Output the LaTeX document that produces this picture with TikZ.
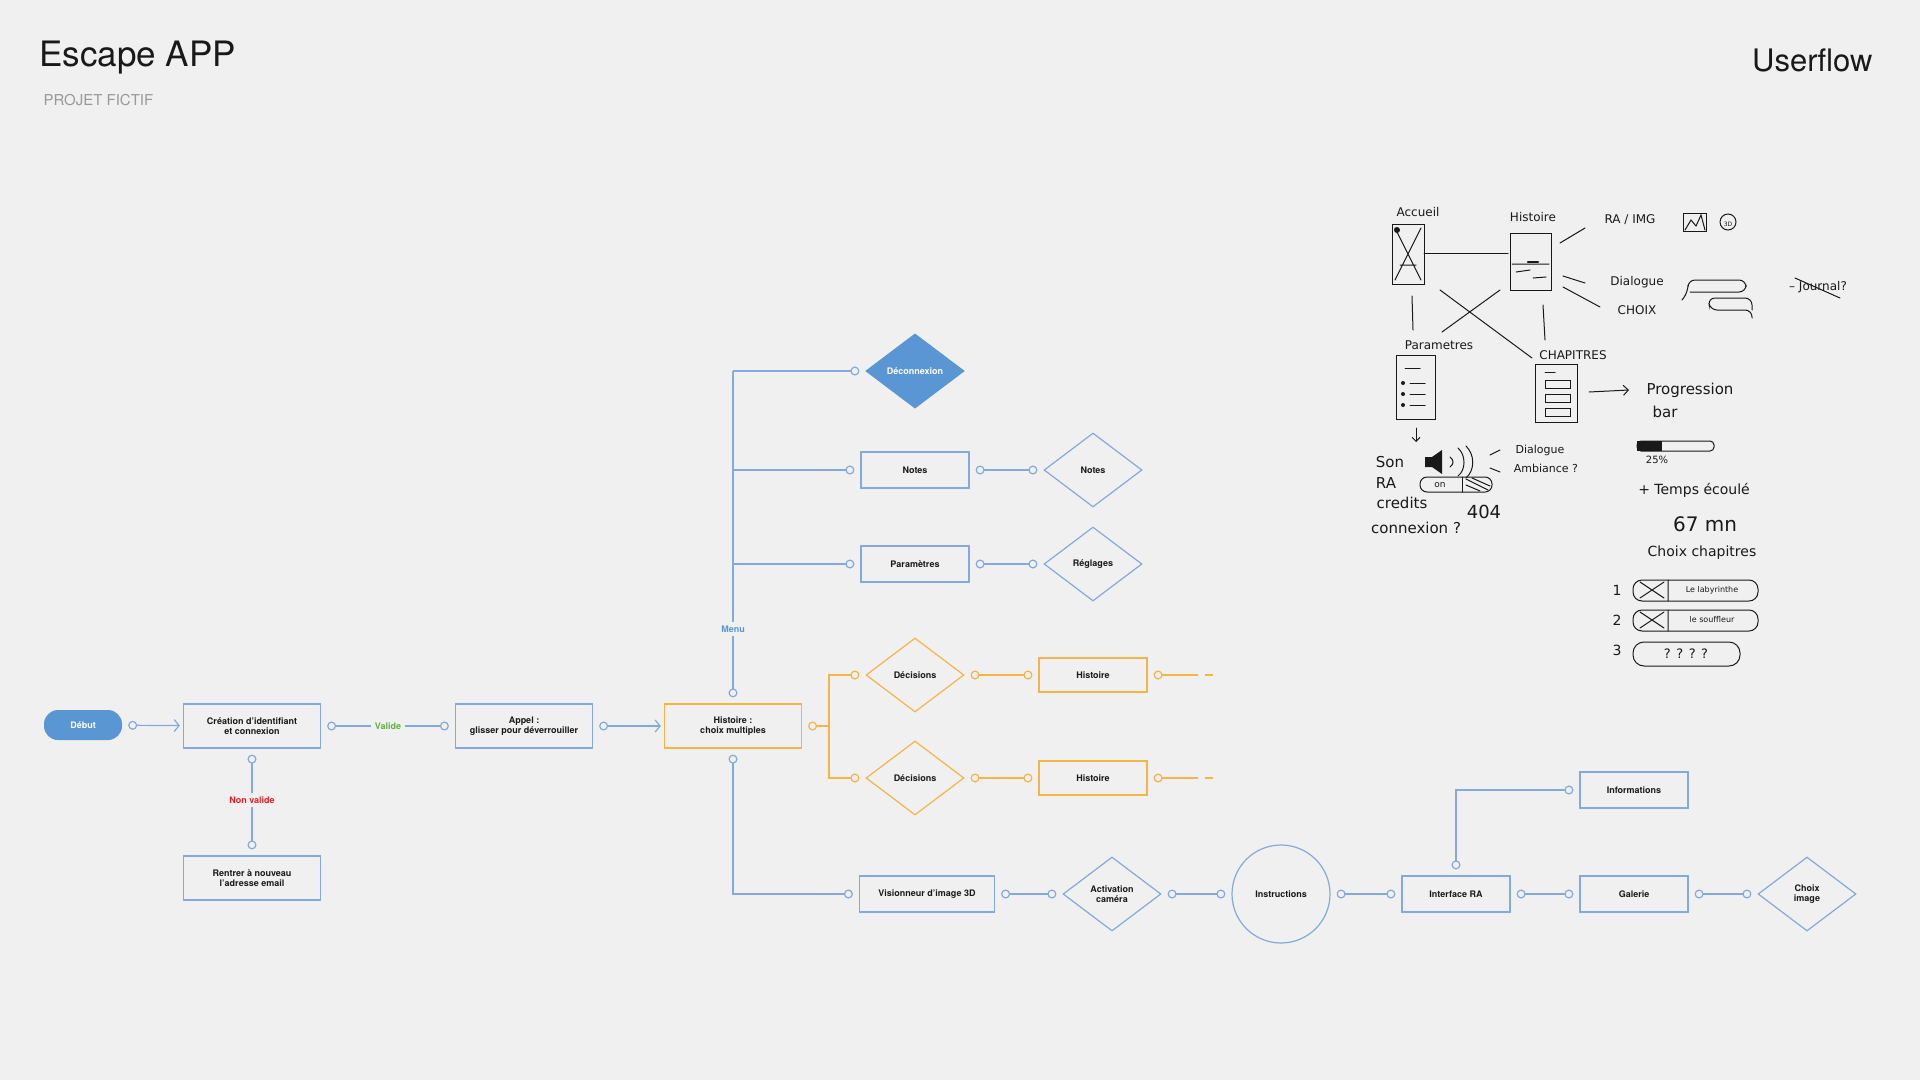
\documentclass[tikz,border=0pt]{standalone}
\usepackage{fontspec}
\setmainfont{TeX Gyre Heros}
\newfontfamily\sketchfont{DejaVu Sans}
\usetikzlibrary{
  arrows.meta,
  shapes.geometric  % diamonds
}
\definecolor{bg}{RGB}{240,240,240}
\definecolor{flow}{RGB}{130,170,220}
\definecolor{flowfill}{RGB}{91,150,212}
\definecolor{story}{RGB}{245,180,70}
\definecolor{ok}{RGB}{90,180,60}
\definecolor{ko}{RGB}{230,30,40}
\definecolor{ink}{RGB}{25,25,25}
\tikzset{
  x=1pt, y=-1pt,
  every node/.style = {font=\fontsize{9}{10}\selectfont\bfseries, text=ink, align=center},
  screen/.style = {rectangle, draw=flow, line width=1.2pt, minimum width=108pt, minimum height=36pt},
  widescreen/.style = {screen, minimum width=137pt, minimum height=44pt},
  choice/.style = {diamond, draw=flow, line width=1.2pt, minimum width=98pt, minimum height=74pt, aspect=1.3, inner sep=0pt},
  storybox/.style = {screen, draw=story},
  storychoice/.style = {choice, draw=story},
  link/.style = {draw=flow, line width=1.2pt, {Circle[open,length=9pt,width=9pt]}-{Circle[open,length=9pt,width=9pt]}, shorten <=6pt, shorten >=6pt},
  flowarrow/.style = {draw=flow, line width=1.2pt, {Circle[open,length=9pt,width=9pt]}-{Straight Barb[length=5pt,width=12pt]}, shorten <=6pt, shorten >=3pt},
  branch/.style = {draw=flow, line width=1.2pt, -{Circle[open,length=9pt,width=9pt]}, shorten >=6pt},
  stub/.style = {draw=flow, line width=1.2pt, {Circle[open,length=9pt,width=9pt]}-, shorten <=6pt},
  storylink/.style = {link, draw=story},
  storybranch/.style = {branch, draw=story},
  storystub/.style = {stub, draw=story},
  sketch/.style = {draw=ink, line width=1pt, line cap=round},
  hand/.style = {font=\sketchfont\fontsize{12}{13}\selectfont, text=ink, inner sep=1pt}
}
\begin{document}
\begin{tikzpicture}
  \fill[bg] (0,0) rectangle (1920,1080);
  \useasboundingbox (0,0) rectangle (1920,1080);

  %% titles
  \node[anchor=west, font=\fontsize{35}{38}\selectfont] (T) at (36,58) {Escape APP};
  \node[anchor=west, font=\fontsize{15}{17}\selectfont, text=black!40] (ST) at (40,100) {PROJET FICTIF};
  \node[anchor=east, font=\fontsize{31}{34}\selectfont] (UF) at (1876,60) {Userflow};

  %% main flow
  \node[rectangle, rounded corners=14pt, fill=flowfill, text=white, minimum width=78pt, minimum height=30pt] (DEB) at (83,725) {Début};
  \node[widescreen] (CRE) at (252,726) {Création d'identifiant\\et connexion};
  \node[text=ok] (VAL) at (388,726) {Valide};
  \node[widescreen] (APP) at (524,726) {Appel :\\glisser pour déverrouiller};
  \node[widescreen, draw=story] (HIS) at (733,726) {Histoire :\\choix multiples};
  \node[text=ko] (NV) at (252,800) {Non valide};
  \node[widescreen] (RE) at (252,878) {Rentrer à nouveau\\l'adresse email};

  %% menu
  \node[text=flowfill] (MENU) at (733,629) {Menu};
  \coordinate (M0) at (733,371);
  \node[choice, fill=flowfill, draw=flowfill, text=white] (DEC) at (915,371) {Déconnexion};
  \node[screen] (NOT) at (915,470) {Notes};
  \node[choice] (NOTD) at (1093,470) {Notes};
  \node[screen] (PAR) at (915,564) {Paramètres};
  \node[choice] (REG) at (1093,564) {Réglages};

  %% story branches
  \coordinate (S0) at (829,726);
  \node[storychoice] (D1) at (915,675) {Décisions};
  \node[storybox, minimum height=34pt] (H1) at (1093,675) {Histoire};
  \node[storychoice] (D2) at (915,778) {Décisions};
  \node[storybox, minimum height=34pt] (H2) at (1093,778) {Histoire};
  \coordinate (E1) at (1218,675);
  \coordinate (E2) at (1218,778);

  %% AR branch
  \node[screen, minimum width=135pt] (VIS) at (927,894) {Visionneur d'image 3D};
  \node[choice] (ACT) at (1112,894) {Activation\\caméra};
  \node[circle, draw=flow, line width=1.2pt, minimum size=98pt] (INS) at (1281,894) {Instructions};
  \node[screen] (IRA) at (1456,894) {Interface RA};
  \node[screen] (GAL) at (1634,894) {Galerie};
  \node[choice] (CHI) at (1807,894) {Choix\\image};
  \node[screen] (INF) at (1634,790) {Informations};

  %% arrows
  \draw[flowarrow] (DEB) -- (CRE);
  \draw[stub] (CRE.east) -- (VAL.west);
  \draw[branch] (VAL.east) -- (APP.west);
  \draw[flowarrow] (APP) -- (HIS);
  \draw[stub] (CRE.south) -- (NV.north);
  \draw[branch] (NV.south) -- (RE.north);

  \draw[draw=flow, line width=1.2pt] (M0) -- (MENU.north);
  \draw[branch] (MENU.south) -- (HIS.north);
  \draw[branch] (M0) -- (DEC.west);
  \draw[branch] (M0 |- NOT.west) -- (NOT.west);
  \draw[branch] (M0 |- PAR.west) -- (PAR.west);
  \draw[link] (NOT) -- (NOTD);
  \draw[link] (PAR) -- (REG);

  \draw[storystub] (HIS.east) -- (S0);
  \draw[storybranch] (S0) |- (D1.west);
  \draw[storybranch] (S0) |- (D2.west);
  \draw[storylink] (D1) -- (H1);
  \draw[storylink] (D2) -- (H2);
  \draw[storystub, dash pattern=on 36pt off 7pt on 8pt off 6pt on 8pt] (H1.east) -- (E1);
  \draw[storystub, dash pattern=on 36pt off 7pt on 8pt off 6pt on 8pt] (H2.east) -- (E2);

  \draw[link] (HIS.south) |- (VIS.west);
  \draw[link] (VIS) -- (ACT);
  \draw[link] (ACT) -- (INS);
  \draw[link] (INS) -- (IRA);
  \draw[link] (IRA) -- (GAL);
  \draw[link] (GAL) -- (CHI);
  \draw[link] (IRA.north) |- (INF.west);

  %% hand sketch
  \node[hand] (SACC) at (1418,212) {Accueil};
  \draw[sketch] (1392,224) rectangle (1424,284);
  \draw[sketch] (1395,228) -- (1421,280) (1421,228) -- (1395,280) (1400,265) -- (1416,265);
  \fill[ink] (1397,230) circle (3pt);
  \node[hand] (SHIS) at (1533,217) {Histoire};
  \draw[sketch] (1510,233) rectangle (1551,290);
  \draw[sketch] (1512,264) -- (1549,264) (1516,272) -- (1530,270) (1533,278) -- (1546,277);
  \draw[sketch, line width=2.5pt] (1528,262) -- (1538,262);
  \draw[sketch] (1424,253) -- (1508,253);
  \draw[sketch] (1412,296) -- (1413,330) (1543,305) -- (1545,340);
  \draw[sketch] (1440,290) -- (1532,358) (1500,290) -- (1442,332);
  \node[hand] (SRA) at (1630,220) {RA / IMG};
  \draw[sketch] (1683,213) rectangle (1706,231);
  \draw[sketch] (1685,230) -- (1691,220) -- (1696,226) -- (1701,215) -- (1705,230);
  \draw[sketch] (1728,222) circle (8pt);
  \node[hand, font=\sketchfont\fontsize{6}{6}\selectfont] (S3D) at (1728,224) {3D};
  \draw[sketch] (1560,243) -- (1585,228);
  \node[hand] (SDIA) at (1637,282) {Dialogue};
  \node[hand] (SCHO) at (1637,310) {CHOIX};
  \draw[sketch] (1563,276) -- (1585,283) (1563,287) -- (1600,307);
  \draw[sketch, rounded corners=7pt] (1682,300) -- (1688,292) -- (1688,280) -- (1746,280) -- (1746,292) -- (1690,292);
  \draw[sketch, rounded corners=7pt] (1752,318) -- (1752,310) -- (1710,310) -- (1708,298) -- (1752,298) -- (1752,310);
  \node[hand] (SJOU) at (1818,287) {– Journal?};
  \draw[sketch] (1795,278) -- (1840,298);
  \node[hand] (SPAR) at (1439,345) {Parametres};
  \draw[sketch] (1396,355) rectangle (1435,419);
  \draw[sketch] (1405,368) -- (1420,368) (1410,383) -- (1425,383) (1410,394) -- (1425,394) (1410,405) -- (1425,405);
  \fill[ink] (1403,383) circle (2pt) (1403,394) circle (2pt) (1403,405) circle (2pt);
  \node[hand] (SCHA) at (1573,355) {CHAPITRES};
  \draw[sketch] (1535,364) rectangle (1577,422);
  \draw[sketch] (1545,372) -- (1555,372) (1545,380) rectangle (1570,388) (1545,394) rectangle (1570,402) (1545,408) rectangle (1570,416);
  \draw[sketch, -{Straight Barb[length=5pt,width=10pt]}] (1589,392) -- (1629,390);
  \node[hand, font=\sketchfont\fontsize{15}{16}\selectfont] (SPRO) at (1690,390) {Progression};
  \node[hand, font=\sketchfont\fontsize{15}{16}\selectfont] (SBAR) at (1665,412) {bar};
  \draw[sketch, rounded corners=4pt] (1637,441) rectangle (1714,451);
  \fill[ink] (1637,441) rectangle (1662,451);
  \node[hand, font=\sketchfont\fontsize{10}{11}\selectfont] (SPCT) at (1657,460) {25\%};
  \node[hand, font=\sketchfont\fontsize{14}{15}\selectfont] (STMP) at (1694,490) {+ Temps écoulé};
  \node[hand, font=\sketchfont\fontsize{20}{22}\selectfont] (SMN) at (1705,524) {67 mn};
  \node[hand, font=\sketchfont\fontsize{14}{15}\selectfont] (SCCH) at (1702,553) {Choix chapitres};
  \foreach \n/\y/\t in {1/590/Le labyrinthe, 2/620/le souffleur} {
    \node[hand, font=\sketchfont\fontsize{14}{15}\selectfont] (SN\n) at (1617,\y) {\n};
    \draw[sketch, rounded corners=9pt] (1633,\y-10) rectangle (1758,\y+11);
    \draw[sketch] (1668,\y-10) -- (1668,\y+11) (1640,\y-8) -- (1664,\y+8) (1640,\y+8) -- (1664,\y-8);
    \node[hand, font=\sketchfont\fontsize{8}{9}\selectfont] (SL\n) at (1712,\y) {\t};
  }
  \node[hand, font=\sketchfont\fontsize{14}{15}\selectfont] (SN3) at (1617,650) {3};
  \draw[sketch, rounded corners=11pt] (1633,642) rectangle (1740,666);
  \node[hand, font=\sketchfont\fontsize{13}{14}\selectfont] (SQ) at (1686,654) {? ? ? ?};
  \draw[sketch, -{Straight Barb[length=4pt,width=8pt]}] (1416,428) -- (1416,442);
  \node[hand, font=\sketchfont\fontsize{15}{16}\selectfont] (SSON) at (1390,462) {Son};
  \fill[ink] (1425,457) rectangle (1432,467) (1432,457) -- (1442,450) -- (1442,474) -- (1432,467) -- cycle;
  \draw[sketch] (1450,457) .. controls (1454,460) and (1454,464) .. (1450,467);
  \draw[sketch] (1458,448) .. controls (1466,455) and (1466,470) .. (1458,476);
  \draw[sketch] (1466,446) .. controls (1475,455) and (1475,470) .. (1466,478);
  \draw[sketch] (1490,455) -- (1500,450) (1490,468) -- (1500,472);
  \node[hand, font=\sketchfont\fontsize{11}{12}\selectfont] (SDL) at (1540,450) {Dialogue};
  \node[hand, font=\sketchfont\fontsize{11}{12}\selectfont] (SAMB) at (1546,468) {Ambiance ?};
  \node[hand, font=\sketchfont\fontsize{15}{16}\selectfont] (SRA2) at (1386,483) {RA};
  \draw[sketch, rounded corners=7pt] (1420,477) rectangle (1492,492);
  \draw[sketch] (1462,477) -- (1462,492);
  \draw[sketch] (1466,479) -- (1488,490) (1472,478) -- (1490,486) (1466,485) -- (1480,491);
  \node[hand, font=\sketchfont\fontsize{9}{10}\selectfont] (SON) at (1440,485) {on};
  \node[hand, font=\sketchfont\fontsize{15}{16}\selectfont] (SCRE) at (1402,503) {credits};
  \node[hand, font=\sketchfont\fontsize{18}{20}\selectfont] (S404) at (1484,512) {404};
  \node[hand, font=\sketchfont\fontsize{15}{16}\selectfont] (SCON) at (1416,528) {connexion ?};
\end{tikzpicture}
\end{document}
